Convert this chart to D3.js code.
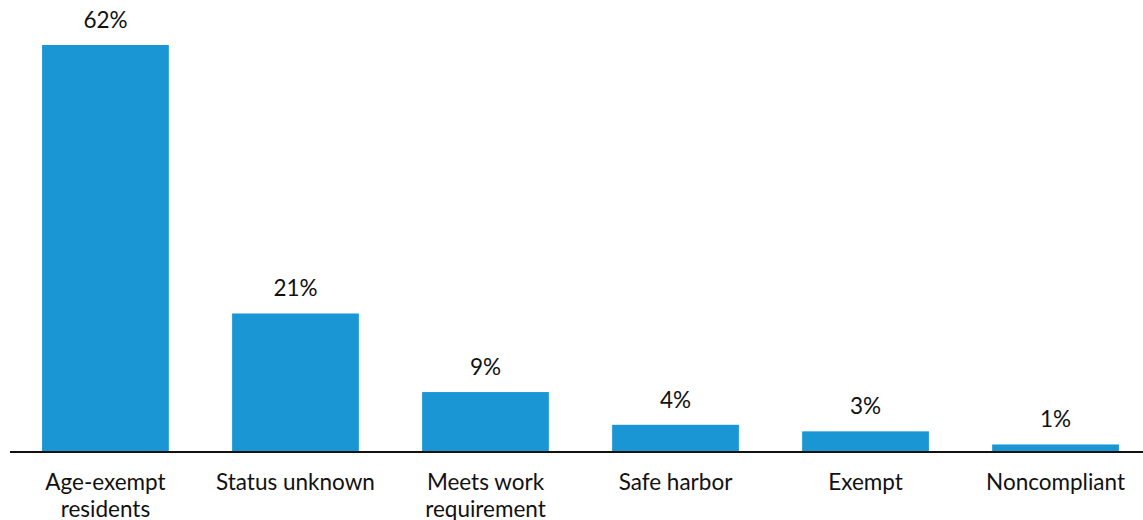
<!DOCTYPE html>
<html>
<head>
<meta charset="utf-8">
<script src="https://cdn.jsdelivr.net/npm/d3@7"></script>
<style>
  html, body { margin: 0; padding: 0; background: #fff; }
  svg text { font-family: Lato, "Open Sans", sans-serif; fill: #111; }
</style>
</head>
<body>
<svg id="chart" width="1143" height="520"></svg>
<script>
// Share of enrollees by work-requirement status
const categories = [
  ["Age-exempt", "residents"],
  ["Status unknown"],
  ["Meets work", "requirement"],
  ["Safe harbor"],
  ["Exempt"],
  ["Noncompliant"]
];
const values = [62, 21, 9, 4, 3, 1];

const svg = d3.select("#chart");
const baseline = 451;
const fontSize = 22.5;

const x = d3.scaleBand()
  .domain(d3.range(values.length))
  .range([11.5, 1149.5])
  .paddingInner(0.333)
  .paddingOuter(0.161);

const y = d3.scaleLinear()
  .domain([0, 62])
  .range([baseline, 45]);

// bars
svg.append("g")
  .selectAll("rect")
  .data(values)
  .join("rect")
  .attr("x", (d, i) => x(i))
  .attr("y", d => y(d))
  .attr("width", x.bandwidth())
  .attr("height", d => baseline - y(d))
  .attr("fill", "#1a96d4");

// value labels
svg.append("g")
  .selectAll("text")
  .data(values)
  .join("text")
  .attr("x", (d, i) => x(i) + x.bandwidth() / 2)
  .attr("y", d => y(d) - 17)
  .attr("text-anchor", "middle")
  .attr("font-size", fontSize)
  .text(d => d + "%");

// baseline
svg.append("line")
  .attr("x1", 10).attr("x2", 1143)
  .attr("y1", baseline + 1).attr("y2", baseline + 1)
  .attr("stroke", "#111")
  .attr("stroke-width", 2);

// category labels
const cat = svg.append("g")
  .selectAll("text")
  .data(categories)
  .join("text")
  .attr("x", (d, i) => x(i) + x.bandwidth() / 2)
  .attr("y", 490)
  .attr("text-anchor", "middle")
  .attr("font-size", fontSize);
cat.selectAll("tspan")
  .data(d => d)
  .join("tspan")
  .attr("x", function () { return d3.select(this.parentNode).attr("x"); })
  .attr("dy", (d, j) => j === 0 ? 0 : 27)
  .text(d => d);
</script>
</body>
</html>
